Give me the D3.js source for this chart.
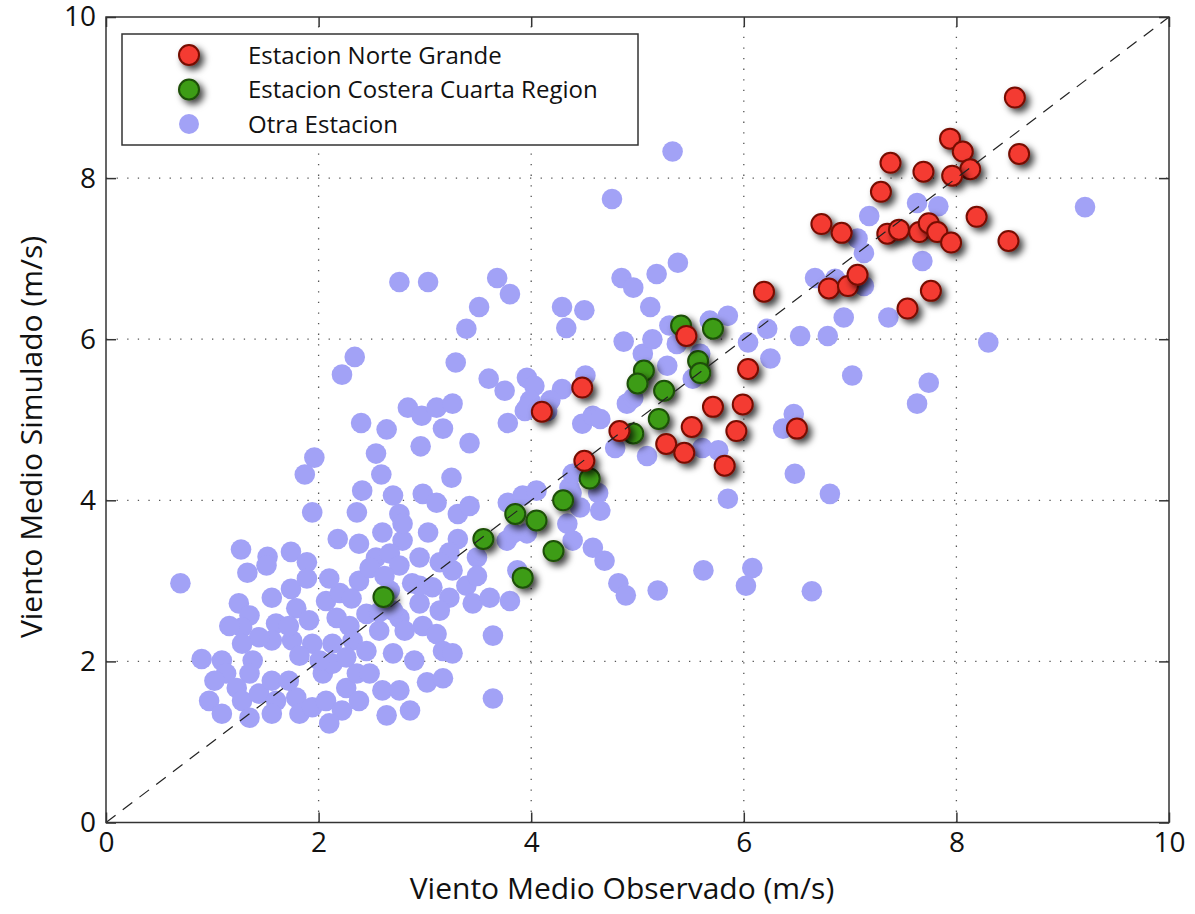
<!DOCTYPE html>
<html>
<head>
<meta charset="utf-8">
<title>Viento medio observado vs simulado</title>
<script src="https://cdn.jsdelivr.net/npm/d3@7"></script>
<style>
body { margin: 0; background: #fff; }
svg { display: block; font-family: "Open Sans", "Noto Sans", sans-serif; }
</style>
</head>
<body>
<script>
const norteObs = [4.10,4.48,4.50,4.83,5.27,5.44,5.51,5.71,5.99,5.93,5.82,6.04,6.50,5.46,6.19,6.80,6.98,7.54,6.73,6.92,7.07,7.76,7.29,7.38,7.69,7.94,8.06,8.13,7.96,7.35,7.46,7.65,7.74,7.82,7.95,8.19,8.55,8.59,8.49];
const norteSim = [5.10,5.40,4.49,4.86,4.70,4.59,4.91,5.16,5.19,4.86,4.43,5.63,4.89,6.04,6.59,6.63,6.66,6.38,7.43,7.32,6.80,6.60,7.83,8.19,8.08,8.49,8.33,8.11,8.03,7.31,7.36,7.33,7.44,7.33,7.20,7.52,9.00,8.30,7.22];

const costeraObs = [5.41,5.71,5.57,5.59,5.06,5.00,5.25,5.20,4.96,4.55,4.30,3.85,4.05,3.55,4.21,3.92,2.61];
const costeraSim = [6.17,6.13,5.73,5.58,5.61,5.45,5.36,5.01,4.83,4.27,4.00,3.83,3.75,3.52,3.37,3.04,2.80];

const otraObs = [
  1.27,1.52,1.74,1.94,2.36,2.41,2.18,2.38,2.60,2.70,2.76,2.79,2.54,2.98,3.11,3.03,3.31,3.42,3.31,3.23,3.78,3.92,4.05,3.77,3.83,3.96,
  2.40,2.64,2.84,2.97,3.11,3.26,3.17,2.96,3.42,2.54,1.96,1.87,2.59,3.25,2.79,1.89,2.67,2.95,3.49,4.36,4.46,4.34,4.39,4.58,3.94,3.78,4.48,4.58,
  2.76,3.03,3.68,3.80,3.51,3.39,2.34,2.22,3.29,3.60,3.75,3.96,4.03,4.29,4.51,3.99,4.29,4.50,4.33,4.85,4.96,5.18,5.12,4.87,5.05,5.14,4.90,5.30,
  4.18,4.15,3.96,4.65,4.79,5.09,4.96,5.28,5.52,5.37,5.59,5.68,5.85,6.22,6.04,6.25,6.53,6.79,6.94,7.02,6.47,6.37,5.61,5.76,6.48,5.85,6.81,4.63,4.65,
  5.33,4.76,5.38,6.67,6.86,7.13,7.07,7.13,7.18,7.63,7.83,7.68,7.36,
  9.21,8.30,7.74,7.63,
  4.39,4.38,4.69,4.82,4.89,5.19,5.62,6.08,6.02,6.64,3.64,3.64,
  0.70,1.33,1.51,1.25,1.35,1.56,1.74,1.89,1.79,1.91,2.07,2.20,2.17,2.38,2.48,2.76,2.88,3.07,3.23,3.39,3.45,2.95,2.76,2.98,3.11,3.17,3.26,2.70,
  2.45,2.57,2.32,2.45,2.13,1.94,1.75,1.60,1.56,1.44,1.28,1.28,1.38,1.35,1.09,0.90,1.13,1.23,0.97,1.09,1.28,1.35,1.44,1.56,1.60,1.56,1.79,1.82,
  1.94,2.07,2.04,2.13,2.26,2.26,2.22,2.10,2.36,2.48,2.60,2.76,2.64,2.86,3.02,3.17,2.67,2.70,
  3.49,3.61,3.80,3.14,3.26,3.87,
  2.10,2.31,2.57,2.01,1.82,1.72,2.81,2.90,2.38,1.72,1.16,1.02,2.95,2.29,2.62,3.14
];
const otraSim = [
  3.39,3.30,3.36,3.85,3.85,4.12,3.52,3.46,3.60,4.06,3.83,3.50,3.29,4.08,3.97,3.60,3.83,3.93,3.52,3.35,3.97,4.06,4.12,3.50,3.59,3.59,
  4.96,4.88,5.15,5.05,5.15,5.20,4.89,4.67,4.71,4.58,4.53,4.32,4.32,4.28,3.71,3.23,3.34,3.29,3.29,4.16,3.91,3.71,3.50,3.41,5.11,4.96,4.95,5.05,
  6.71,6.71,6.76,6.56,6.40,6.13,5.78,5.56,5.71,5.51,5.36,5.52,5.42,5.38,5.55,5.24,6.40,6.36,6.14,6.76,6.64,6.81,6.40,5.97,5.82,6.00,5.20,6.17,
  5.24,5.11,5.15,5.01,4.65,4.55,5.27,5.67,5.51,5.94,5.82,6.23,6.29,6.13,5.96,5.76,6.04,6.04,6.27,5.55,5.07,4.89,4.65,4.62,4.33,4.02,4.08,4.09,3.87,
  8.33,7.74,6.95,6.76,6.75,6.66,7.25,7.07,7.53,7.69,7.65,6.97,6.27,
  7.64,5.96,5.46,5.20,
  4.33,4.09,3.25,2.97,2.82,2.88,3.13,3.16,2.94,2.87,2.32,1.54,
  2.97,3.10,3.19,2.72,2.57,2.79,2.90,3.03,2.66,2.51,2.75,2.85,2.54,3.00,3.16,3.19,2.97,2.92,2.79,2.94,2.72,2.72,2.54,2.44,2.34,2.13,2.10,2.10,
  2.59,2.38,2.26,2.13,2.22,2.22,2.26,2.47,2.26,2.30,2.42,2.22,2.01,1.85,2.01,2.03,1.85,1.67,1.51,1.35,1.51,1.30,1.60,1.76,1.51,1.35,1.55,1.35,
  1.43,1.51,1.85,1.97,2.05,1.67,1.39,1.23,1.85,1.85,1.64,1.64,1.33,1.39,1.74,1.79,2.88,2.63,
  3.06,2.79,2.75,3.23,3.13,3.13,
  3.03,2.78,2.61,2.01,2.07,2.44,2.38,2.01,1.51,1.76,2.44,1.76,2.94,2.44,3.06,2.63
];

const ticks = [0, 2, 4, 6, 8, 10];
const gridTicks = [2, 4, 6, 8];
const legendLabels = ["Estacion Norte Grande", "Estacion Costera Cuarta Region", "Otra Estacion"];
const xTitle = "Viento Medio Observado (m/s)";
const yTitle = "Viento Medio Simulado (m/s)";

const width = 1195, height = 914;
const plotLeft = 106, plotRight = 1169, plotTop = 17, plotBottom = 822.5;

const x = d3.scaleLinear().domain([0, 10]).range([plotLeft, plotRight]);
const y = d3.scaleLinear().domain([0, 10]).range([plotBottom, plotTop]);

const svg = d3.select("body").append("svg")
    .attr("width", width)
    .attr("height", height);

const defs = svg.append("defs");
defs.append("filter")
    .attr("id", "shadow")
    .attr("x", "-60%").attr("y", "-60%")
    .attr("width", "240%").attr("height", "240%")
  .append("feDropShadow")
    .attr("dx", 4).attr("dy", 4)
    .attr("stdDeviation", 3.5)
    .attr("flood-color", "#000")
    .attr("flood-opacity", 0.75);

// dotted grid
const grid = svg.append("g")
    .attr("stroke", "#555")
    .attr("stroke-width", 1.3)
    .attr("stroke-dasharray", "1.3,9.3");
grid.selectAll(".gx").data(gridTicks).join("line")
    .attr("x1", d => x(d)).attr("x2", d => x(d))
    .attr("y1", plotBottom).attr("y2", plotTop);
grid.selectAll(".gy").data(gridTicks).join("line")
    .attr("y1", d => y(d)).attr("y2", d => y(d))
    .attr("x1", plotLeft).attr("x2", plotRight);

// points
const points = (xs, ys) => xs.map((v, i) => ({x: v, y: ys[i]}));

svg.append("g").selectAll("circle")
  .data(points(otraObs, otraSim))
  .join("circle")
    .attr("cx", d => x(d.x))
    .attr("cy", d => y(d.y))
    .attr("r", 10.3)
    .attr("fill", "#a2a2f6");

svg.append("g").selectAll("circle")
  .data(points(costeraObs, costeraSim))
  .join("circle")
    .attr("cx", d => x(d.x))
    .attr("cy", d => y(d.y))
    .attr("r", 10)
    .attr("fill", "#3c9c12")
    .attr("stroke", "#1f4f07")
    .attr("stroke-width", 2)
    .attr("filter", "url(#shadow)");

svg.append("g").selectAll("circle")
  .data(points(norteObs, norteSim))
  .join("circle")
    .attr("cx", d => x(d.x))
    .attr("cy", d => y(d.y))
    .attr("r", 10)
    .attr("fill", "#f43a30")
    .attr("stroke", "#760b06")
    .attr("stroke-width", 2)
    .attr("filter", "url(#shadow)");

// 1:1 line
svg.append("line")
    .attr("x1", x(0)).attr("y1", y(0))
    .attr("x2", x(10)).attr("y2", y(10))
    .attr("stroke", "#222")
    .attr("stroke-width", 1.2)
    .attr("stroke-dasharray", "12,9");

// axes, ticks inward on all sides
const fontSize = 28;
const styleAxis = g => {
  g.select(".domain").remove();
  g.selectAll(".tick line").attr("stroke", "#333").attr("stroke-width", 1.5);
  g.selectAll("text").attr("font-size", fontSize).attr("fill", "#111")
    .attr("font-family", "'Open Sans', 'Noto Sans', sans-serif");
};

svg.append("g")
    .attr("transform", `translate(0,${plotBottom})`)
    .call(d3.axisBottom(x).tickValues(ticks).tickSize(-10).tickPadding(10).tickFormat(d3.format("d")))
    .call(styleAxis);
svg.append("g")
    .attr("transform", `translate(${plotLeft},0)`)
    .call(d3.axisLeft(y).tickValues(ticks).tickSize(-10).tickPadding(10).tickFormat(d3.format("d")))
    .call(styleAxis);
svg.append("g")
    .attr("transform", `translate(0,${plotTop})`)
    .call(d3.axisTop(x).tickValues(ticks).tickSize(-10).tickFormat(""))
    .call(styleAxis);
svg.append("g")
    .attr("transform", `translate(${plotRight},0)`)
    .call(d3.axisRight(y).tickValues(ticks).tickSize(-10).tickFormat(""))
    .call(styleAxis);

svg.append("rect")
    .attr("x", plotLeft).attr("y", plotTop)
    .attr("width", plotRight - plotLeft).attr("height", plotBottom - plotTop)
    .attr("fill", "none")
    .attr("stroke", "#333")
    .attr("stroke-width", 1.5);

// titles
svg.append("text")
    .attr("x", 622)
    .attr("y", 899)
    .attr("text-anchor", "middle")
    .attr("font-size", 30)
    .attr("fill", "#111")
    .text(xTitle);
svg.append("text")
    .attr("transform", "translate(42,437) rotate(-90)")
    .attr("text-anchor", "middle")
    .attr("font-size", 30)
    .attr("fill", "#111")
    .text(yTitle);

// legend
const legend = svg.append("g");
legend.append("rect")
    .attr("x", 122).attr("y", 34)
    .attr("width", 516).attr("height", 111)
    .attr("fill", "#fff")
    .attr("stroke", "#333")
    .attr("stroke-width", 1.5);

const legendStyles = [
  {fill: "#f43a30", stroke: "#760b06", shadow: true},
  {fill: "#3c9c12", stroke: "#1f4f07", shadow: true},
  {fill: "#a2a2f6", stroke: "none", shadow: false}
];
const item = legend.selectAll(".item")
  .data(legendLabels)
  .join("g")
    .attr("transform", (d, i) => `translate(0,${55 + i * 34.5})`);
item.append("circle")
    .attr("cx", 189).attr("cy", 0).attr("r", 10)
    .attr("fill", (d, i) => legendStyles[i].fill)
    .attr("stroke", (d, i) => legendStyles[i].stroke)
    .attr("stroke-width", 2)
    .attr("filter", (d, i) => legendStyles[i].shadow ? "url(#shadow)" : null);
item.append("text")
    .attr("x", 248).attr("y", 8.5)
    .attr("font-size", 24)
    .attr("fill", "#111")
    .text(d => d);
</script>
</body>
</html>
